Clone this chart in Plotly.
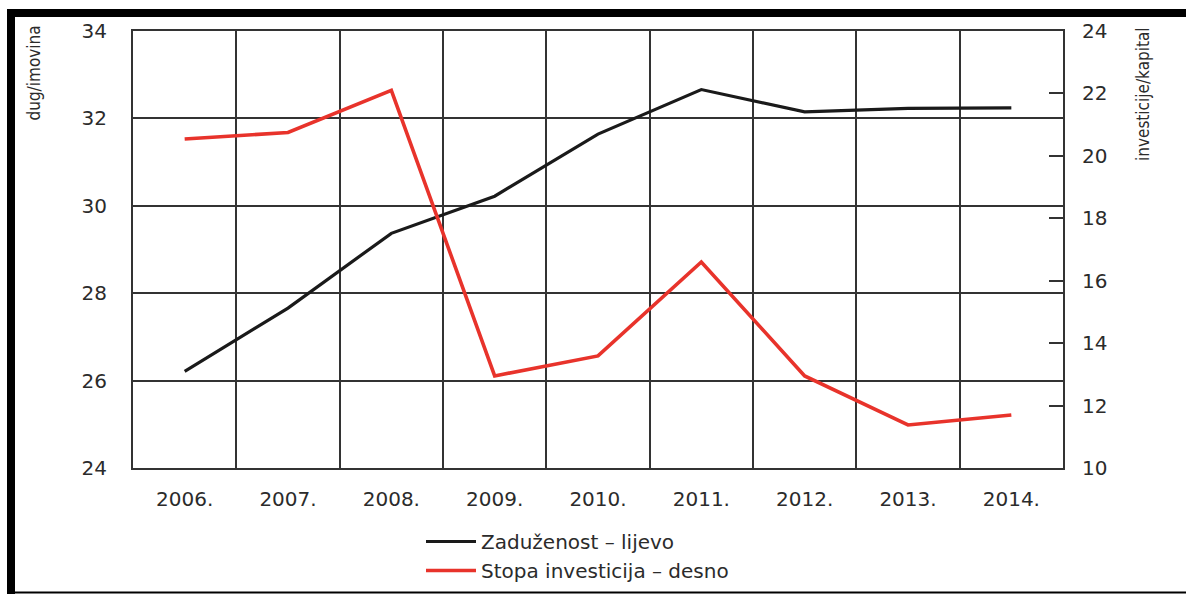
import plotly.graph_objects as go

# Yearly values
years = ["2006.", "2007.", "2008.", "2009.", "2010.", "2011.", "2012.", "2013.", "2014."]
zaduzenost = [26.21, 27.66, 29.37, 30.22, 31.64, 32.66, 32.15, 32.23, 32.24]
stopa_investicija = [20.54, 20.75, 22.10, 12.95, 13.59, 16.60, 12.95, 11.38, 11.70]

left_ticks = [24, 26, 28, 30, 32, 34]
right_ticks = [10, 12, 14, 16, 18, 20, 22, 24]

W, H = 1186, 594
ML, MR, MT, MB = 133, 123, 31, 126
PW, PH = W - ML - MR, H - MT - MB

TXT = "#2b2b2b"
GRID = "#333333"
TICK_FONT = dict(family="DejaVu Sans, Arial, sans-serif", size=20, color=TXT)
NARROW = "Liberation Sans Narrow, Arial Narrow, DejaVu Sans Condensed, sans-serif"


def px_x(p):
    return (p - ML) / PW


def px_y(p):
    return (H - MB - p) / PH


fig = go.Figure()
fig.add_trace(go.Scatter(
    x=years, y=zaduzenost, mode="lines", name="Zaduženost – lijevo",
    line=dict(color="#1a1a1a", width=3.2), yaxis="y",
))
fig.add_trace(go.Scatter(
    x=years, y=stopa_investicija, mode="lines", name="Stopa investicija – desno",
    line=dict(color="#e8332b", width=3.6), yaxis="y2",
))

fig.update_layout(
    width=W, height=H,
    margin=dict(l=ML, r=MR, t=MT, b=MB, pad=0, autoexpand=False),
    paper_bgcolor="white", plot_bgcolor="white",
    showlegend=True,
    legend=dict(
        x=px_x(421), y=px_y(522), xanchor="left", yanchor="top",
        orientation="v", font=dict(family="DejaVu Sans, Arial, sans-serif", size=20, color=TXT),
        bgcolor="rgba(0,0,0,0)", itemwidth=50, tracegroupgap=0,
    ),
    xaxis=dict(
        type="category", tickson="boundaries", range=[-0.5, 8.5],
        showgrid=True, gridcolor=GRID, gridwidth=2,
        showline=True, linecolor=GRID, linewidth=2, mirror=True,
        ticks="", tickfont=TICK_FONT, ticklabelstandoff=12,
    ),
    yaxis=dict(
        range=[24, 34], tickvals=left_ticks, showgrid=True, gridcolor=GRID, gridwidth=2,
        showline=True, linecolor=GRID, linewidth=2, mirror=True,
        ticks="", tickfont=TICK_FONT, ticklabelstandoff=20, zeroline=False,
    ),
    yaxis2=dict(
        overlaying="y", side="right", range=[10, 24], tickvals=right_ticks,
        showgrid=False, zeroline=False, ticks="inside", ticklen=14, tickwidth=2,
        tickcolor=GRID, tickfont=TICK_FONT, ticklabelstandoff=18,
    ),
    annotations=[
        dict(text="dug/imovina", textangle=-90, xref="paper", yref="paper",
             x=px_x(34), y=px_y(24), xanchor="center", yanchor="top", showarrow=False,
             font=dict(family=NARROW, size=17, color=TXT)),
        dict(text="investicije/kapital", textangle=-90, xref="paper", yref="paper",
             x=px_x(1143), y=px_y(25), xanchor="center", yanchor="top", showarrow=False,
             font=dict(family=NARROW, size=17, color=TXT)),
    ],
    shapes=[
        # outer frame: thick top and left bars, thin bottom rule
        dict(type="rect", xref="paper", yref="paper", x0=px_x(7), x1=px_x(W + 2),
             y0=px_y(9), y1=px_y(17), fillcolor="black", line_width=0, layer="above"),
        dict(type="rect", xref="paper", yref="paper", x0=px_x(7), x1=px_x(15),
             y0=px_y(9), y1=px_y(H + 2), fillcolor="black", line_width=0, layer="above"),
        dict(type="line", xref="paper", yref="paper", x0=px_x(7), x1=px_x(W + 2),
             y0=px_y(592.5), y1=px_y(592.5), line=dict(color="black", width=2), layer="above"),
    ],
)

fig.write_html("out.html")
